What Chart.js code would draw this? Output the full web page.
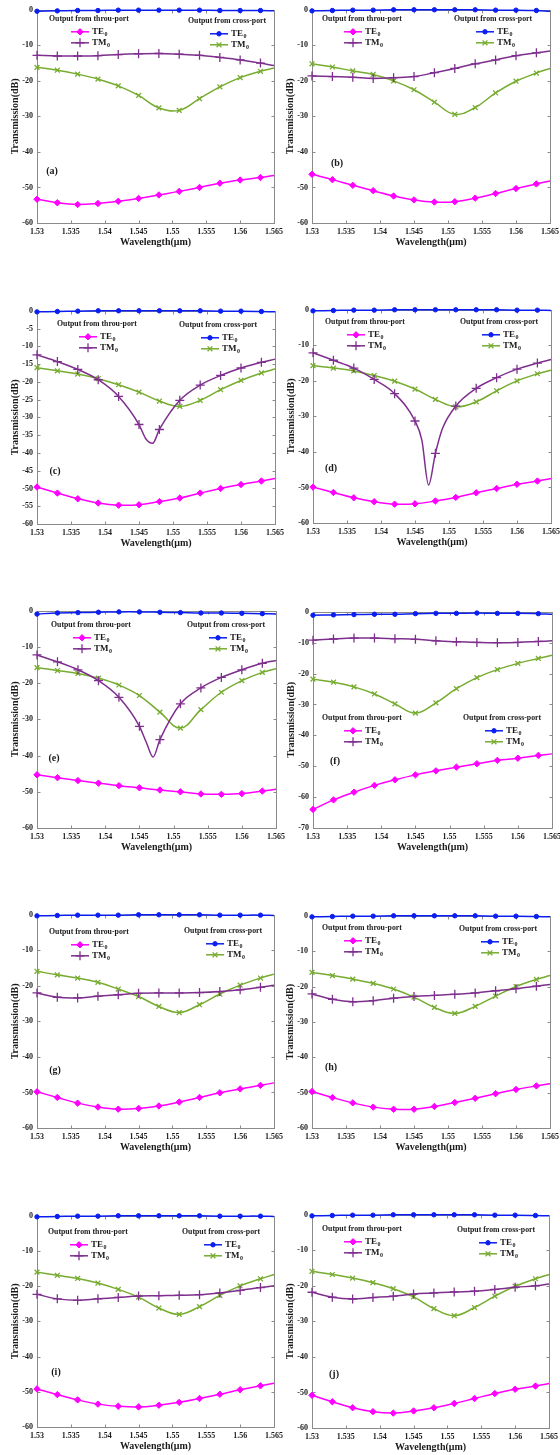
<!DOCTYPE html>
<html>
<head>
<meta charset="utf-8">
<script src="https://cdn.jsdelivr.net/npm/chart.js@4.4.1/dist/chart.umd.min.js"></script>
<style>
html, body { margin: 0; padding: 0; background: #fff; }
#page { position: relative; width: 560px; height: 1455px; overflow: hidden; background: #fff; }
#page canvas { position: absolute; }
</style>
</head>
<body>
<div id="page"></div>
<script>
/* global Chart */

// wavelength samples (µm); the last one carries no marker
const WAVELENGTH = [1.530, 1.533, 1.536, 1.539, 1.542, 1.545, 1.548, 1.551, 1.554, 1.557, 1.560, 1.563, 1.565];
const MARKER_COUNT = 12;

const X_TICKS = [1.53, 1.535, 1.54, 1.545, 1.55, 1.555, 1.56, 1.565];
const X_TICK_LABELS = ["1.53", "1.535", "1.54", "1.545", "1.55", "1.555", "1.56", "1.565"];
const Y_TICKS_10 = [0, -10, -20, -30, -40, -50, -60];
const Y_TICKS_5 = [0, -5, -10, -15, -20, -25, -30, -35, -40, -45, -50, -55, -60];
const Y_TICKS_70 = [0, -10, -20, -30, -40, -50, -60, -70];

const PANEL_TAGS = ["(a)", "(b)", "(c)", "(d)", "(e)", "(f)", "(g)", "(h)", "(i)", "(j)"];

// (a)
const A_TE_THROU = [-53.3, -54.3, -54.8, -54.5, -53.9, -53.1, -52.1, -51.1, -50.0, -48.8, -47.9, -47.2, -46.6];
const A_TM_THROU = [-12.8, -13.0, -13.0, -12.9, -12.6, -12.4, -12.3, -12.5, -12.8, -13.4, -14.1, -15.0, -15.7];
const A_TE_CROSS = [-0.4, -0.3, -0.2, -0.2, -0.1, -0.1, -0.1, -0.1, -0.1, -0.2, -0.2, -0.2, -0.3];
const A_TM_CROSS = [-16.2, -17.0, -18.1, -19.5, -21.4, -24.1, -27.6, -28.3, -25.0, -21.7, -19.1, -17.3, -16.4];
// (b)
const B_TE_THROU = [-46.3, -47.8, -49.4, -50.9, -52.4, -53.5, -54.1, -54.0, -53.0, -51.7, -50.3, -49.0, -48.2];
const B_TM_THROU = [-18.6, -18.8, -19.0, -19.3, -19.1, -18.8, -17.7, -16.5, -15.2, -14.1, -12.9, -12.1, -11.6];
const B_TE_CROSS = [-0.3, -0.2, -0.1, -0.1, 0, 0, 0, 0, 0, -0.1, -0.1, -0.2, -0.4];
const B_TM_CROSS = [-15.2, -16.1, -17.2, -18.2, -20.0, -22.5, -26.0, -29.4, -27.5, -23.4, -20.1, -17.8, -16.5];
// (c)
const C_TE_THROU = [-49.6, -51.3, -52.9, -54.1, -54.7, -54.6, -53.7, -52.7, -51.3, -50.0, -48.9, -47.9, -47.2];
const C_TM_THROU = [-12.4, -14.3, -16.5, -19.4, -24.1, -32.0, -33.4, -25.2, -20.9, -18.2, -16.1, -14.5, -13.6];
const C_TM_DIP_X = [1.546, 1.547];
const C_TM_DIP_Y = [-36.0, -37.3];
const C_TE_CROSS = [-0.3, -0.2, -0.1, 0, 0, 0, 0, 0, 0, -0.1, -0.1, -0.2, -0.3];
const C_TM_CROSS = [-16.0, -16.9, -17.8, -19.1, -20.8, -22.9, -25.4, -26.9, -25.2, -22.2, -19.6, -17.5, -16.4];
// (d)
const D_TE_THROU = [-49.9, -51.4, -52.9, -54.0, -54.7, -54.6, -53.8, -52.8, -51.5, -50.3, -49.1, -48.2, -47.5];
const D_TM_THROU = [-12.1, -14.2, -16.4, -19.6, -23.6, -31.3, -40.4, -27.1, -22.1, -19.1, -16.7, -15.0, -14.0];
const D_TM_DIP_X = [1.546, 1.547, 1.549];
const D_TM_DIP_Y = [-36.6, -49.3, -33.6];
const D_TE_CROSS = [-0.3, -0.2, -0.1, -0.1, 0, 0, 0, 0, 0, 0, -0.1, -0.1, -0.2];
const D_TM_CROSS = [-15.7, -16.4, -17.2, -18.5, -20.1, -22.3, -25.2, -27.3, -25.9, -22.8, -20.0, -18.0, -17.0];
// (e)
const E_TE_THROU = [-45.3, -46.1, -46.9, -47.6, -48.3, -48.9, -49.5, -50.0, -50.6, -50.7, -50.5, -49.8, -49.3];
const E_TM_THROU = [-12.2, -14.1, -16.3, -19.3, -23.9, -31.9, -35.6, -25.7, -21.3, -18.4, -16.3, -14.5, -13.7];
const E_TM_DIP_X = [1.546, 1.547];
const E_TM_DIP_Y = [-36.3, -40.4];
const E_TE_CROSS = [-0.9, -0.6, -0.5, -0.4, -0.3, -0.3, -0.4, -0.5, -0.6, -0.6, -0.7, -0.8, -0.9];
const E_TM_CROSS = [-15.7, -16.5, -17.3, -18.6, -20.5, -23.4, -28.0, -32.4, -27.3, -22.5, -19.3, -17.0, -16.0];
// (f)
const F_TE_THROU = [-64.0, -60.9, -58.4, -56.2, -54.4, -52.8, -51.5, -50.3, -49.2, -48.1, -47.4, -46.5, -46.0];
const F_TM_THROU = [-9.2, -8.8, -8.5, -8.5, -8.7, -8.9, -9.4, -9.7, -9.9, -10.0, -9.9, -9.6, -9.4];
const F_TE_CROSS = [-1.1, -1.0, -0.9, -0.8, -0.8, -0.6, -0.5, -0.5, -0.4, -0.5, -0.5, -0.6, -0.8];
const F_TM_CROSS = [-21.8, -22.8, -24.3, -26.6, -29.8, -32.8, -29.5, -24.9, -21.3, -18.7, -16.7, -15.1, -14.1];
// (g)
const G_TE_THROU = [-49.8, -51.4, -53.0, -54.1, -54.7, -54.5, -53.8, -52.7, -51.4, -50.1, -49.0, -48.0, -47.3];
const G_TM_THROU = [-22.0, -23.2, -23.4, -22.9, -22.5, -22.1, -22.0, -22.0, -21.9, -21.6, -21.1, -20.4, -19.8];
const G_TE_CROSS = [-0.3, -0.2, -0.1, -0.1, -0.1, 0, 0, 0, 0, -0.1, -0.1, -0.1, -0.2];
const G_TM_CROSS = [-15.9, -16.9, -17.8, -19.0, -20.9, -23.0, -25.8, -27.5, -25.3, -22.3, -19.8, -17.8, -16.7];
// (h)
const H_TE_THROU = [-49.7, -51.4, -52.9, -54.1, -54.7, -54.7, -53.9, -52.8, -51.6, -50.3, -49.1, -48.1, -47.5];
const H_TM_THROU = [-22.1, -23.6, -24.3, -24.0, -23.3, -22.8, -22.5, -22.2, -21.8, -21.2, -20.6, -19.9, -19.4];
const H_TE_CROSS = [-0.3, -0.2, -0.1, -0.1, 0, 0, 0, 0, 0, -0.1, -0.1, -0.2, -0.3];
const H_TM_CROSS = [-16.0, -16.9, -17.9, -19.1, -20.7, -23.0, -25.9, -27.6, -25.6, -22.7, -20.0, -18.0, -16.9];
// (i)
const I_TE_THROU = [-49.2, -50.8, -52.3, -53.5, -54.1, -54.3, -53.8, -53.0, -51.9, -50.7, -49.4, -48.3, -47.6];
const I_TM_THROU = [-22.3, -23.6, -24.0, -23.6, -23.2, -22.8, -22.7, -22.6, -22.4, -21.9, -21.2, -20.4, -19.9];
const I_TE_CROSS = [-0.3, -0.2, -0.1, -0.1, 0, 0, 0, 0, 0, -0.1, -0.1, -0.1, -0.2];
const I_TM_CROSS = [-16.0, -16.9, -17.8, -19.1, -20.9, -23.1, -26.2, -28.0, -25.8, -22.6, -19.9, -17.9, -16.7];
// (j)
const J_TE_THROU = [-50.8, -52.6, -54.3, -55.4, -55.8, -55.2, -54.3, -53.1, -51.7, -50.3, -49.1, -48.2, -47.5];
const J_TM_THROU = [-21.8, -23.2, -23.7, -23.3, -22.9, -22.3, -22.0, -21.7, -21.5, -21.0, -20.4, -20.0, -19.5];
const J_TE_CROSS = [-0.3, -0.2, -0.1, -0.1, 0, 0, 0, 0, 0, -0.1, -0.1, -0.2, -0.3];
const J_TM_CROSS = [-15.9, -16.8, -17.8, -19.1, -20.8, -23.1, -26.4, -28.4, -26.1, -22.9, -20.1, -18.0, -16.8];

// series order: TE throu, TM throu, TE cross, TM cross
const STYLES = [
    { name: "TE", color: "#ff00ff", pointStyle: "rectRot", radius: 3.2, bw: 1 },
    { name: "TM", color: "#7e2f8e", pointStyle: "cross", radius: 4.5, bw: 1.3 },
    { name: "TE", color: "#0a1ef0", pointStyle: "circle", radius: 2.2, bw: 1 },
    { name: "TM", color: "#77ac30", pointStyle: "crossRot", radius: 3.4, bw: 1.3 },
];

const FONT = '"Liberation Serif", "Times New Roman", serif';
const INK = "#1a1a1a";
const Y_AXIS_W = 37, X_AXIS_H = 27, PAD_TOP = 8, PAD_RIGHT = 14;

// plot box [left, top, right, bottom], legend header offsets, tag offset
const PANELS = [
    { box: [37, 9, 274, 223], series: [A_TE_THROU, A_TM_THROU, A_TE_CROSS, A_TM_CROSS], yTicks: Y_TICKS_10, throu: [12, 9], cross: [151, 11], tag: [15, 162] },
    { box: [312, 9, 550, 223], series: [B_TE_THROU, B_TM_THROU, B_TE_CROSS, B_TM_CROSS], yTicks: Y_TICKS_10, throu: [10, 9], cross: [142, 9], tag: [25, 154] },
    { box: [37, 310, 275, 524], series: [C_TE_THROU, C_TM_THROU, C_TE_CROSS, C_TM_CROSS], dip: [C_TM_DIP_X, C_TM_DIP_Y], yTicks: Y_TICKS_5, throu: [20, 13], cross: [142, 14], tag: [18, 161] },
    { box: [313, 309, 551, 523], series: [D_TE_THROU, D_TM_THROU, D_TE_CROSS, D_TM_CROSS], dip: [D_TM_DIP_X, D_TM_DIP_Y], yTicks: Y_TICKS_10, throu: [12, 12], cross: [147, 12], tag: [18, 159] },
    { box: [37, 610, 276, 828], series: [E_TE_THROU, E_TM_THROU, E_TE_CROSS, E_TM_CROSS], dip: [E_TM_DIP_X, E_TM_DIP_Y], yTicks: Y_TICKS_10, throu: [14, 14], cross: [150, 14], tag: [17, 148] },
    { box: [313, 611, 552, 828], series: [F_TE_THROU, F_TM_THROU, F_TE_CROSS, F_TM_CROSS], yTicks: Y_TICKS_70, throu: [9, 106], cross: [150, 106], tag: [22, 150] },
    { box: [37, 914, 274, 1128], series: [G_TE_THROU, G_TM_THROU, G_TE_CROSS, G_TM_CROSS], yTicks: Y_TICKS_10, throu: [12, 17], cross: [147, 16], tag: [18, 156] },
    { box: [312, 915, 550, 1128], series: [H_TE_THROU, H_TM_THROU, H_TE_CROSS, H_TM_CROSS], yTicks: Y_TICKS_10, throu: [10, 12], cross: [147, 13], tag: [19, 152] },
    { box: [37, 1215, 274, 1427], series: [I_TE_THROU, I_TM_THROU, I_TE_CROSS, I_TM_CROSS], yTicks: Y_TICKS_10, throu: [11, 16], cross: [145, 16], tag: [19, 157] },
    { box: [312, 1214, 549, 1428], series: [J_TE_THROU, J_TM_THROU, J_TE_CROSS, J_TM_CROSS], yTicks: Y_TICKS_10, throu: [10, 14], cross: [145, 15], tag: [22, 160] },
];

function points(ys, dip) {
    const pts = WAVELENGTH.map((x, i) => ({ x, y: ys[i], m: i < MARKER_COUNT }));
    if (dip) dip[0].forEach((x, i) => pts.push({ x, y: dip[1][i], m: false }));
    return pts.sort((p, q) => p.x - q.x);
}

function marker(ctx, st, x, y) {
    ctx.fillStyle = st.color;
    ctx.strokeStyle = st.color;
    ctx.lineWidth = st.bw;
    Chart.helpers.drawPoint(ctx, { pointStyle: st.pointStyle, radius: st.radius, rotation: 0, borderWidth: st.bw }, x, y);
}

function legendGroup(ctx, x, y, title, styles) {
    ctx.textAlign = "left";
    ctx.textBaseline = "middle";
    ctx.fillStyle = INK;
    ctx.font = "bold 7.8px " + FONT;
    ctx.fillText(title, x, y);
    styles.forEach((st, i) => {
        const ry = y + 13 + i * 11;
        ctx.strokeStyle = st.color;
        ctx.lineWidth = 1.5;
        ctx.beginPath();
        ctx.moveTo(x + 22, ry);
        ctx.lineTo(x + 40, ry);
        ctx.stroke();
        marker(ctx, st, x + 31, ry);
        ctx.fillStyle = INK;
        ctx.font = "bold 9px " + FONT;
        ctx.fillText(st.name, x + 43, ry);
        const w = ctx.measureText(st.name).width;
        ctx.font = "bold 6px " + FONT;
        ctx.fillText("0", x + 43.5 + w, ry + 3);
    });
}

function decor(panel, tag) {
    return {
        id: "decor",
        // axes box with inward ticks, under the curves
        beforeDatasetsDraw(chart) {
            const { ctx, chartArea: a, scales } = chart;
            ctx.save();
            ctx.strokeStyle = "#8a8a8a";
            ctx.lineWidth = 1;
            const L = Math.round(a.left) + 0.5, R = Math.round(a.right) + 0.5;
            const T = Math.round(a.top) + 0.5, B = Math.round(a.bottom) + 0.5;
            ctx.strokeRect(L, T, R - L, B - T);
            ctx.beginPath();
            scales.x.ticks.forEach(t => {
                const px = Math.round(scales.x.getPixelForValue(t.value)) + 0.5;
                ctx.moveTo(px, B); ctx.lineTo(px, B - 3);
                ctx.moveTo(px, T); ctx.lineTo(px, T + 3);
            });
            scales.y.ticks.forEach(t => {
                const py = Math.round(scales.y.getPixelForValue(t.value)) + 0.5;
                ctx.moveTo(L, py); ctx.lineTo(L + 3, py);
                ctx.moveTo(R, py); ctx.lineTo(R - 3, py);
            });
            ctx.stroke();
            ctx.restore();
        },
        afterDatasetsDraw(chart) {
            const { ctx, chartArea: a } = chart;
            ctx.save();
            legendGroup(ctx, a.left + panel.throu[0], a.top + panel.throu[1], "Output from throu-port", [STYLES[0], STYLES[1]]);
            legendGroup(ctx, a.left + panel.cross[0], a.top + panel.cross[1], "Output from cross-port", [STYLES[2], STYLES[3]]);
            ctx.fillStyle = INK;
            ctx.font = "bold 10px " + FONT;
            ctx.textAlign = "center";
            ctx.textBaseline = "middle";
            ctx.fillText(tag, a.left + panel.tag[0], a.top + panel.tag[1]);
            ctx.restore();
        }
    };
}

const page = document.getElementById("page");

PANELS.forEach((p, k) => {
    const [left, top, right, bottom] = p.box;
    const canvas = document.createElement("canvas");
    const w = right - left + Y_AXIS_W + PAD_RIGHT;
    const h = bottom - top + PAD_TOP + X_AXIS_H;
    canvas.width = w;
    canvas.height = h;
    canvas.style.width = w + "px";
    canvas.style.height = h + "px";
    canvas.style.left = (left - Y_AXIS_W) + "px";
    canvas.style.top = (top - PAD_TOP) + "px";
    page.appendChild(canvas);

    const datasets = p.series.map((ys, i) => {
        const st = STYLES[i];
        const dip = i === 1 ? p.dip : null;
        return {
            data: points(ys, dip),
            borderColor: st.color,
            backgroundColor: st.color,
            borderWidth: 1.5,
            pointStyle: st.pointStyle,
            pointRadius: c => (c.raw && c.raw.m ? st.radius : 0),
            pointHoverRadius: 0,
            pointBorderWidth: st.bw,
            pointBackgroundColor: st.color,
            pointBorderColor: st.color,
            tension: 0.4,
            cubicInterpolationMode: dip ? "monotone" : "default",
            clip: 8,
        };
    });
    const yMin = p.yTicks[p.yTicks.length - 1];

    new Chart(canvas, {
        type: "line",
        data: { datasets },
        options: {
            responsive: false,
            animation: false,
            devicePixelRatio: 1,
            events: [],
            layout: { padding: { left: 0, top: PAD_TOP, right: PAD_RIGHT, bottom: 0 } },
            plugins: { legend: { display: false }, tooltip: { enabled: false } },
            scales: {
                x: {
                    type: "linear",
                    min: 1.53,
                    max: 1.565,
                    grid: { display: false, drawTicks: false },
                    border: { display: false },
                    afterBuildTicks: s => { s.ticks = X_TICKS.map(v => ({ value: v })); },
                    afterFit: s => { s.height = X_AXIS_H; },
                    ticks: {
                        autoSkip: false,
                        maxRotation: 0,
                        padding: 4,
                        color: INK,
                        font: { family: FONT, size: 8, weight: "bold" },
                        callback: (v, i) => X_TICK_LABELS[i],
                    },
                    title: {
                        display: true,
                        text: "Wavelength(μm)",
                        color: INK,
                        font: { family: FONT, size: 10, weight: "bold" },
                        padding: { top: 0, bottom: 2 },
                    },
                },
                y: {
                    type: "linear",
                    min: yMin,
                    max: 0,
                    grid: { display: false, drawTicks: false },
                    border: { display: false },
                    afterBuildTicks: s => { s.ticks = p.yTicks.map(v => ({ value: v })); },
                    afterFit: s => { s.width = Y_AXIS_W; },
                    ticks: {
                        padding: 4,
                        color: INK,
                        font: { family: FONT, size: 8, weight: "bold" },
                        callback: v => String(v),
                    },
                    title: {
                        display: true,
                        text: "Transmission(dB)",
                        color: INK,
                        font: { family: FONT, size: 10, weight: "bold" },
                        padding: { top: 9, bottom: 0 },
                    },
                },
            },
        },
        plugins: [decor(p, PANEL_TAGS[k])],
    });
});
</script>
</body>
</html>
